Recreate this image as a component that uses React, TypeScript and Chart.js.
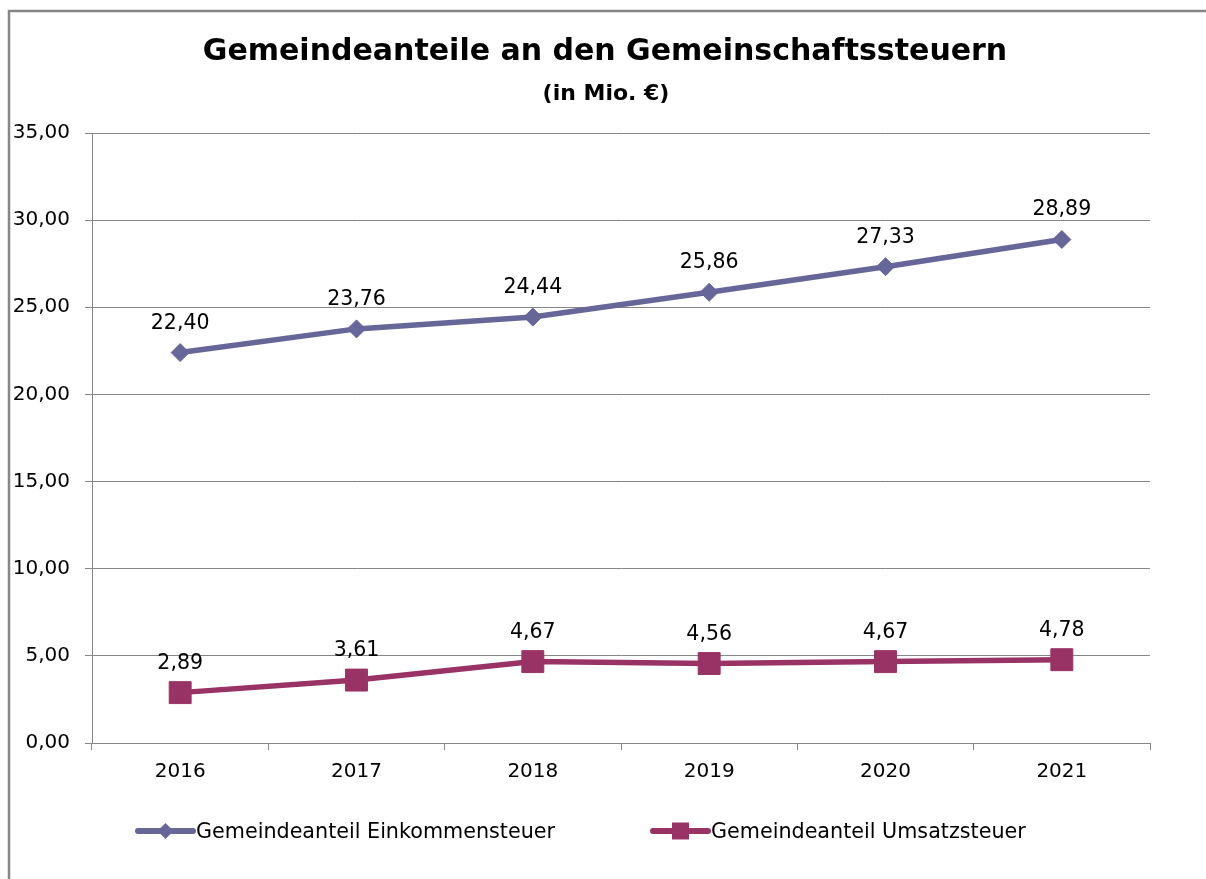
import React, { useEffect, useRef } from "react";
import { Chart, registerables } from "chart.js";

Chart.register(...registerables);

const years = ["2016", "2017", "2018", "2019", "2020", "2021"];
const einkommensteuer = [22.4, 23.76, 24.44, 25.86, 27.33, 28.89];
const umsatzsteuer = [2.89, 3.61, 4.67, 4.56, 4.67, 4.78];
const yTicks = [0, 5, 10, 15, 20, 25, 30, 35];
const seriesNames = ["Gemeindeanteil Einkommensteuer", "Gemeindeanteil Umsatzsteuer"];
const titleText = "Gemeindeanteile an den Gemeinschaftssteuern";
const subtitleText = "(in Mio. €)";

const W = 1206;
const H = 879;
const FONT = "'DejaVu Sans', sans-serif";
const PURPLE = "#666699";
const MAROON = "#993366";
const GRID = "#868686";

const fmt = (v: number) => v.toFixed(2).replace(".", ",");

const framePlugin = {
  id: "frame",
  beforeDraw(chart: any) {
    const ctx = chart.ctx;
    ctx.save();
    ctx.fillStyle = "#ffffff";
    ctx.fillRect(0, 0, W, H);
    ctx.strokeStyle = "#878787";
    ctx.lineWidth = 2.5;
    ctx.beginPath();
    ctx.moveTo(9, H + 10);
    ctx.lineTo(9, 11);
    ctx.lineTo(W + 10, 11);
    ctx.stroke();
    ctx.restore();
  },
};

const titlePlugin = {
  id: "titles",
  afterDraw(chart: any) {
    const ctx = chart.ctx;
    ctx.save();
    ctx.fillStyle = "#000";
    ctx.textAlign = "center";
    ctx.textBaseline = "alphabetic";
    ctx.font = `bold 30px ${FONT}`;
    ctx.fillText(titleText, 605, 60);
    ctx.font = `bold 22px ${FONT}`;
    ctx.fillText(subtitleText, 606, 100);
    ctx.restore();
  },
};

const labelPlugin = {
  id: "valueLabels",
  afterDatasetsDraw(chart: any) {
    const ctx = chart.ctx;
    ctx.save();
    ctx.fillStyle = "#000";
    ctx.textAlign = "center";
    ctx.textBaseline = "alphabetic";
    ctx.font = `20.5px ${FONT}`;
    chart.data.datasets.forEach((ds: any, di: number) => {
      const meta = chart.getDatasetMeta(di);
      meta.data.forEach((pt: any, i: number) => {
        ctx.fillText(fmt(ds.data[i]), pt.x, pt.y - 24);
      });
    });
    ctx.restore();
  },
};

const legendPlugin = {
  id: "customLegend",
  afterDraw(chart: any) {
    const ctx = chart.ctx;
    const items = [
      { x: 138, color: PURPLE, style: "rectRot", r: 8, lw: 6 },
      { x: 653, color: MAROON, style: "rect", r: 12, lw: 6 },
    ];
    const y = 831;
    ctx.save();
    items.forEach((it, i) => {
      ctx.strokeStyle = it.color;
      ctx.lineWidth = it.lw;
      ctx.lineCap = "round";
      ctx.beginPath();
      ctx.moveTo(it.x, y);
      ctx.lineTo(it.x + 55, y);
      ctx.stroke();
      ctx.fillStyle = it.color;
      const cx = it.x + 27.5;
      if (it.style === "rect") {
        const s = it.r * Math.SQRT1_2;
        ctx.fillRect(cx - s, y - s, 2 * s, 2 * s);
      } else {
        ctx.beginPath();
        ctx.moveTo(cx, y - it.r);
        ctx.lineTo(cx + it.r, y);
        ctx.lineTo(cx, y + it.r);
        ctx.lineTo(cx - it.r, y);
        ctx.closePath();
        ctx.fill();
      }
      ctx.fillStyle = "#000";
      ctx.font = `20.7px ${FONT}`;
      ctx.textAlign = "left";
      ctx.textBaseline = "alphabetic";
      ctx.fillText(seriesNames[i], it.x + 58, 838);
    });
    ctx.restore();
  },
};

export default function App() {
  const ref = useRef<HTMLCanvasElement | null>(null);

  useEffect(() => {
    if (!ref.current) return;
    const chart = new Chart(ref.current, {
      type: "line",
      data: {
        labels: years,
        datasets: [
          {
            label: seriesNames[0],
            data: einkommensteuer,
            borderColor: PURPLE,
            backgroundColor: PURPLE,
            borderWidth: 5.5,
            pointStyle: "rectRot",
            pointRadius: 9,
            pointBorderWidth: 1,
            pointBackgroundColor: PURPLE,
            pointBorderColor: PURPLE,
            tension: 0,
          },
          {
            label: seriesNames[1],
            data: umsatzsteuer,
            borderColor: MAROON,
            backgroundColor: MAROON,
            borderWidth: 5.5,
            pointStyle: "rect",
            pointRadius: 15.5,
            pointBorderWidth: 1,
            pointBackgroundColor: MAROON,
            pointBorderColor: MAROON,
            tension: 0,
          },
        ],
      },
      options: {
        responsive: false,
        animation: false,
        devicePixelRatio: 1,
        layout: { padding: { top: 133, right: 56, left: 0, bottom: 0 } },
        plugins: {
          legend: { display: false },
          title: { display: false },
          tooltip: { enabled: false },
        },
        scales: {
          x: {
            offset: true,
            grid: {
              offset: true,
              drawOnChartArea: false,
              drawTicks: true,
              tickLength: 7,
              color: GRID,
            },
            border: { color: GRID, width: 1 },
            ticks: {
              color: "#000",
              font: { family: FONT, size: 20 },
              padding: 10,
              maxRotation: 0,
            },
            afterFit(scale: any) {
              scale.height = 136;
            },
          },
          y: {
            min: 0,
            max: 35,
            afterBuildTicks(scale: any) {
              scale.ticks = yTicks.map((v) => ({ value: v }));
            },
            grid: { color: GRID, tickLength: 7, lineWidth: 1 },
            border: { color: GRID, width: 1 },
            ticks: {
              color: "#000",
              font: { family: FONT, size: 20 },
              padding: 15,
              callback: (v: any) => fmt(Number(v)),
            },
            afterFit(scale: any) {
              scale.width = 92;
            },
          },
        },
      },
      plugins: [framePlugin, labelPlugin, titlePlugin, legendPlugin],
    } as any);
    return () => chart.destroy();
  }, []);

  return (
    <div style={{ position: "absolute", left: 0, top: 0, width: W, height: H }}>
      <canvas ref={ref} width={W} height={H} style={{ display: "block", width: W, height: H }} />
    </div>
  );
}
